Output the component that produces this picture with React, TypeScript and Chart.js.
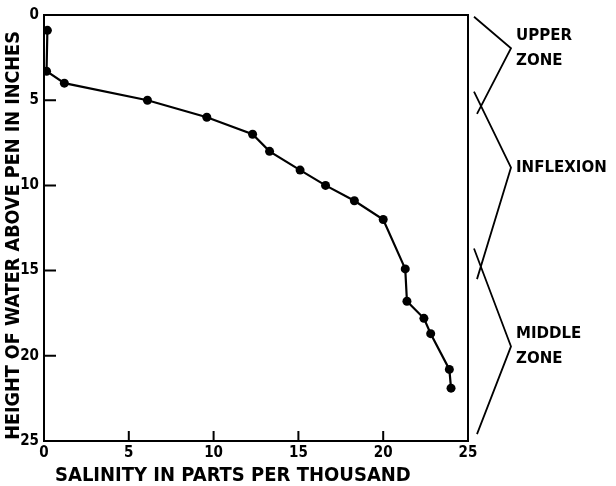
import React, { useEffect, useRef } from "react";
import { Chart, registerables } from "chart.js";
Chart.register(...registerables);

// Salinity (parts per thousand) vs height of water above pen (inches)
const salinity = [0.2, 0.15, 1.2, 6.1, 9.6, 12.3, 13.3, 15.1, 16.6, 18.3, 20.0, 21.3, 21.4, 22.4, 22.8, 23.9, 24.0];
const heightIn = [0.9, 3.3, 4.0, 5.0, 6.0, 7.0, 8.0, 9.1, 10.0, 10.9, 12.0, 14.9, 16.8, 17.8, 18.7, 20.8, 21.9];
const innerTicks = [5, 10, 15, 20];

const xTitle = "SALINITY IN PARTS PER THOUSAND";
const yTitle = "HEIGHT OF WATER ABOVE PEN IN INCHES";

// Zone brackets (in inches on the height axis)
const zoneLabels = [["UPPER", "ZONE"], ["INFLEXION"], ["MIDDLE", "ZONE"]];
const zoneStart = [0.1, 4.5, 13.7];
const zoneTip = [1.95, 8.95, 19.45];
const zoneEnd = [5.8, 15.5, 24.6];

const FONT_FAMILY = '"DejaVu Sans Condensed", "Liberation Sans Narrow", "DejaVu Sans", sans-serif';

const framePlugin = {
  id: "frameAndZones",
  afterDraw(chart: any) {
    const { ctx, chartArea } = chart;
    const xs = chart.scales.x;
    const ys = chart.scales.y;
    ctx.save();
    ctx.strokeStyle = "#000";
    ctx.lineWidth = 2;
    ctx.strokeRect(chartArea.left, chartArea.top, chartArea.right - chartArea.left, chartArea.bottom - chartArea.top);
    ctx.beginPath();
    innerTicks.forEach((v) => {
      const py = ys.getPixelForValue(v);
      ctx.moveTo(chartArea.left, py);
      ctx.lineTo(chartArea.left + 12, py);
      const px = xs.getPixelForValue(v);
      ctx.moveTo(px, chartArea.bottom);
      ctx.lineTo(px, chartArea.bottom - 10);
    });
    ctx.stroke();

    // Axis titles
    ctx.fillStyle = "#000";
    ctx.font = `bold 20px ${FONT_FAMILY}`;
    ctx.textBaseline = "middle";
    ctx.textAlign = "left";
    ctx.fillText(xTitle, chartArea.left + 11, chartArea.bottom + 35);
    ctx.save();
    ctx.font = `bold 19.6px ${FONT_FAMILY}`;
    ctx.translate(14, chartArea.top + 220.5);
    ctx.rotate(-Math.PI / 2);
    ctx.textAlign = "center";
    ctx.fillText(yTitle, 0, 0);
    ctx.restore();

    // Zone brackets
    ctx.lineWidth = 1.8;
    ctx.font = `bold 16.7px ${FONT_FAMILY}`;
    ctx.textAlign = "left";
    const r = chartArea.right;
    zoneLabels.forEach((lines, i) => {
      const y0 = ys.getPixelForValue(zoneStart[i]);
      const y1 = ys.getPixelForValue(zoneTip[i]);
      const y2 = ys.getPixelForValue(zoneEnd[i]);
      ctx.beginPath();
      ctx.moveTo(r + 6, y0);
      ctx.lineTo(r + 43, y1);
      ctx.lineTo(r + 9, y2);
      ctx.stroke();
      const first = y1 - ((lines.length - 1) * 25) / 2;
      lines.forEach((t, j) => {
        ctx.fillText(t, r + 48, first + j * 25);
      });
    });
    ctx.restore();
  },
};

export default function App() {
  const ref = useRef<HTMLCanvasElement | null>(null);
  useEffect(() => {
    document.body.style.margin = "0";
    const canvas = ref.current!;
    const chart = new Chart(canvas, {
      type: "scatter",
      data: {
        datasets: [
          {
            data: salinity.map((s, i) => ({ x: s, y: heightIn[i] })),
            showLine: true,
            borderColor: "#000",
            backgroundColor: "#000",
            borderWidth: 2.2,
            pointRadius: 4.5,
            pointBackgroundColor: "#000",
            pointBorderWidth: 0,
          },
        ],
      },
      options: {
        animation: false,
        responsive: false,
        maintainAspectRatio: false,
        layout: { padding: { top: 15, right: 148, left: 0, bottom: 0 } },
        plugins: { legend: { display: false }, tooltip: { enabled: false } },
        scales: {
          x: {
            type: "linear",
            min: 0,
            max: 25,
            ticks: { stepSize: 5, color: "#000", padding: 3, font: { family: FONT_FAMILY, size: 15, weight: "bold" } },
            grid: { display: false, drawTicks: false },
            border: { display: false },
            afterFit: (s: any) => {
              s.height = 45;
            },
          },
          y: {
            type: "linear",
            reverse: true,
            min: 0,
            max: 25,
            ticks: { stepSize: 5, color: "#000", padding: 5, font: { family: FONT_FAMILY, size: 15, weight: "bold" } },
            grid: { display: false, drawTicks: false },
            border: { display: false },
            afterFit: (s: any) => {
              s.width = 44;
            },
          },
        },
      },
      plugins: [framePlugin],
    });
    return () => chart.destroy();
  }, []);
  return <canvas ref={ref} width={616} height={486} style={{ display: "block" }} />;
}
